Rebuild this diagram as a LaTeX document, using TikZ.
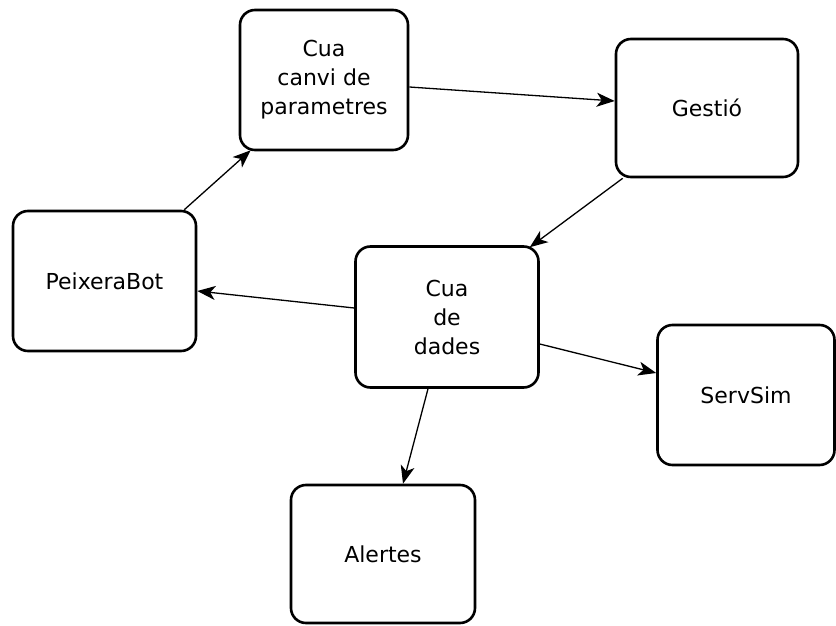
\documentclass[tikz,border=0pt]{standalone}
\usepackage{fontspec}
\setmainfont{DejaVu Sans}
\usetikzlibrary{arrows.meta}

\begin{document}
\begin{tikzpicture}[x=1pt,y=-1pt,
    caixa/.style={draw,line width=2.6pt,rounded corners=15pt,align=center,
      font=\fontsize{22}{29}\selectfont,inner sep=0pt},
    fletxa/.style={-{Stealth[length=18pt,width=14pt,inset=5pt]},line width=1.3pt}]
  \useasboundingbox (0,0) rectangle (836,626);
  \node[caixa,minimum width=168pt,minimum height=140pt] (canvi) at (324,80) {Cua\\canvi de\\parametres};
  \node[caixa,minimum width=182pt,minimum height=138pt] (gestio) at (707,108) {Gestió};
  \node[caixa,minimum width=183pt,minimum height=140pt] (bot) at (104.5,281) {PeixeraBot};
  \node[caixa,minimum width=183pt,minimum height=141pt] (dades) at (447,317) {Cua\\de\\dades};
  \node[caixa,minimum width=177pt,minimum height=140pt] (servsim) at (746,395) {ServSim};
  \node[caixa,minimum width=184pt,minimum height=138pt] (alertes) at (383,554) {Alertes};
  \draw[fletxa] ([xshift=-13pt]bot.north east) -- ([xshift=12pt,yshift=1pt]canvi.south west);
  \draw[fletxa] ([yshift=-7pt]canvi.east) -- ([yshift=7pt]gestio.west);
  \draw[fletxa] ([xshift=8pt]gestio.south west) -- ([xshift=-10pt,yshift=-2pt]dades.north east);
  \draw[fletxa] ([yshift=9pt]dades.west) -- ([yshift=-10pt]bot.east);
  \draw[fletxa] ([yshift=-27pt]dades.east) -- ([yshift=22pt]servsim.west);
  \draw[fletxa] ([xshift=-19pt]dades.south) -- ([xshift=20pt]alertes.north);
\end{tikzpicture}
\end{document}
